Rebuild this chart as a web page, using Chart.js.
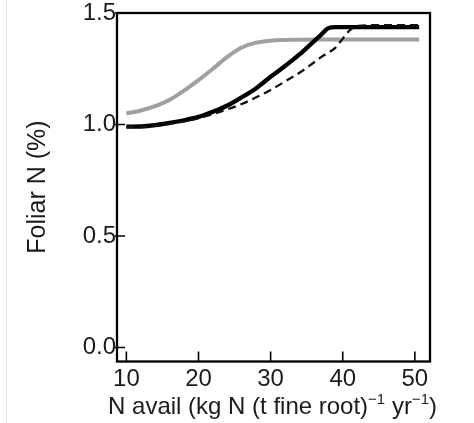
<!DOCTYPE html>
<html>
<head>
<meta charset="utf-8">
<script src="https://cdn.jsdelivr.net/npm/chart.js@4"></script>
<style>
  html, body { margin: 0; padding: 0; background: #fff; }
  #wrap { position: relative; width: 474px; height: 423px; }
  #edge { position: absolute; left: 6px; top: 0; width: 1px; height: 423px; background: #e2e2e2; }
</style>
</head>
<body>
<div id="wrap">
  <canvas id="chart" width="474" height="423"></canvas>
  <div id="edge"></div>
</div>
<script>
// N availability (x) shared by all three curves
const nAvail = [10, 12, 14, 16, 18, 20, 22, 24, 26, 28, 30, 32, 34, 36, 37, 38, 39, 40, 41, 42, 44, 46, 48, 50.6];

// Foliar N (%) for each curve
const grayCurve   = [1.050, 1.063, 1.082, 1.111, 1.152, 1.199, 1.250, 1.303, 1.345, 1.367, 1.376, 1.379, 1.380, 1.381, 1.381, 1.381, 1.381, 1.381, 1.381, 1.381, 1.381, 1.381, 1.381, 1.381];
const blackCurve  = [0.990, 0.991, 0.997, 1.007, 1.019, 1.034, 1.057, 1.085, 1.122, 1.163, 1.214, 1.262, 1.314, 1.373, 1.402, 1.432, 1.437, 1.437, 1.437, 1.437, 1.437, 1.437, 1.437, 1.437];
const dashedCurve = [0.988, 0.989, 0.994, 1.003, 1.014, 1.028, 1.047, 1.068, 1.092, 1.122, 1.155, 1.193, 1.232, 1.278, 1.302, 1.322, 1.345, 1.385, 1.423, 1.442, 1.445, 1.445, 1.445, 1.445];

const xTicks = [10, 20, 30, 40, 50];
const yTicks = [0, 0.5, 1.0, 1.5];

const FONT = "'Liberation Sans', Arial, Helvetica, sans-serif";
const INK = '#1c1c1c';

const toPoints = ys => nAvail.map((x, i) => ({ x: x, y: ys[i] }));

// frame, inward tick marks and the two axis titles
const framePlugin = {
    id: 'frame',
    afterDraw(chart) {
        const ctx = chart.ctx;
        const a = chart.chartArea;
        const xs = chart.scales.x;
        const ys = chart.scales.y;
        ctx.save();
        ctx.strokeStyle = '#000';
        ctx.lineWidth = 2.3;
        ctx.strokeRect(a.left, a.top, a.right - a.left, a.bottom - a.top);

        ctx.lineWidth = 1.6;
        ctx.beginPath();
        xs.ticks.forEach(t => {
            const px = xs.getPixelForValue(t.value);
            ctx.moveTo(px, a.bottom);
            ctx.lineTo(px, a.bottom - 10);
        });
        ys.ticks.forEach(t => {
            const py = ys.getPixelForValue(t.value);
            ctx.moveTo(a.left - 2, py);
            ctx.lineTo(a.left + 8, py);
        });
        ctx.stroke();

        // x title with superscripts
        ctx.fillStyle = INK;
        ctx.textBaseline = 'alphabetic';
        ctx.textAlign = 'left';
        const big = '24px ' + FONT;
        const small = '15px ' + FONT;
        const parts = [
            ['N avail (kg N (t fine root)', big, 0],
            ['\u22121', small, -10],
            [' yr', big, 0],
            ['\u22121', small, -10],
            [')', big, 0]
        ];
        let total = 0;
        parts.forEach(p => { ctx.font = p[1]; total += ctx.measureText(p[0]).width; });
        let cx = 272.5 - total / 2;
        const base = 414;
        parts.forEach(p => {
            ctx.font = p[1];
            ctx.fillText(p[0], cx, base + p[2]);
            cx += ctx.measureText(p[0]).width;
        });

        // y title
        ctx.translate(45, 187);
        ctx.rotate(-Math.PI / 2);
        ctx.font = '25px ' + FONT;
        ctx.textAlign = 'center';
        ctx.fillText('Foliar N (%)', 0, 0);
        ctx.restore();
    }
};

new Chart(document.getElementById('chart').getContext('2d'), {
    type: 'line',
    data: {
        datasets: [
            {
                label: 'dashed',
                data: toPoints(dashedCurve),
                borderColor: '#111',
                borderWidth: 2.3,
                borderDash: [8, 5],
                pointRadius: 0,
                cubicInterpolationMode: 'monotone',
                fill: false
            },
            {
                label: 'black',
                data: toPoints(blackCurve),
                borderColor: '#000',
                borderWidth: 4.3,
                pointRadius: 0,
                cubicInterpolationMode: 'monotone',
                fill: false
            },
            {
                label: 'gray',
                data: toPoints(grayCurve),
                borderColor: '#a0a0a0',
                borderWidth: 4,
                pointRadius: 0,
                cubicInterpolationMode: 'monotone',
                fill: false
            }
        ]
    },
    options: {
        responsive: false,
        animation: false,
        layout: { padding: { top: 12.5, right: 44, left: 0, bottom: 0 } },
        plugins: {
            legend: { display: false },
            tooltip: { enabled: false }
        },
        scales: {
            x: {
                type: 'linear',
                min: 8.7,
                max: 52.1,
                afterBuildTicks: s => { s.ticks = xTicks.map(v => ({ value: v })); },
                afterFit: s => { s.height = 61.5; },
                grid: { display: false, drawTicks: false },
                border: { display: false },
                ticks: {
                    padding: 6,
                    color: INK,
                    maxRotation: 0,
                    font: { family: FONT, size: 24, lineHeight: 1 },
                    callback: v => String(v)
                }
            },
            y: {
                type: 'linear',
                min: -0.063,
                max: 1.5,
                afterBuildTicks: s => { s.ticks = yTicks.map(v => ({ value: v })); },
                afterFit: s => { s.width = 117; },
                grid: { display: false, drawTicks: false },
                border: { display: false },
                ticks: {
                    padding: 1,
                    color: INK,
                    font: { family: FONT, size: 24, lineHeight: 1 },
                    callback: v => v.toFixed(1)
                }
            }
        }
    },
    plugins: [framePlugin]
});
</script>
</body>
</html>
